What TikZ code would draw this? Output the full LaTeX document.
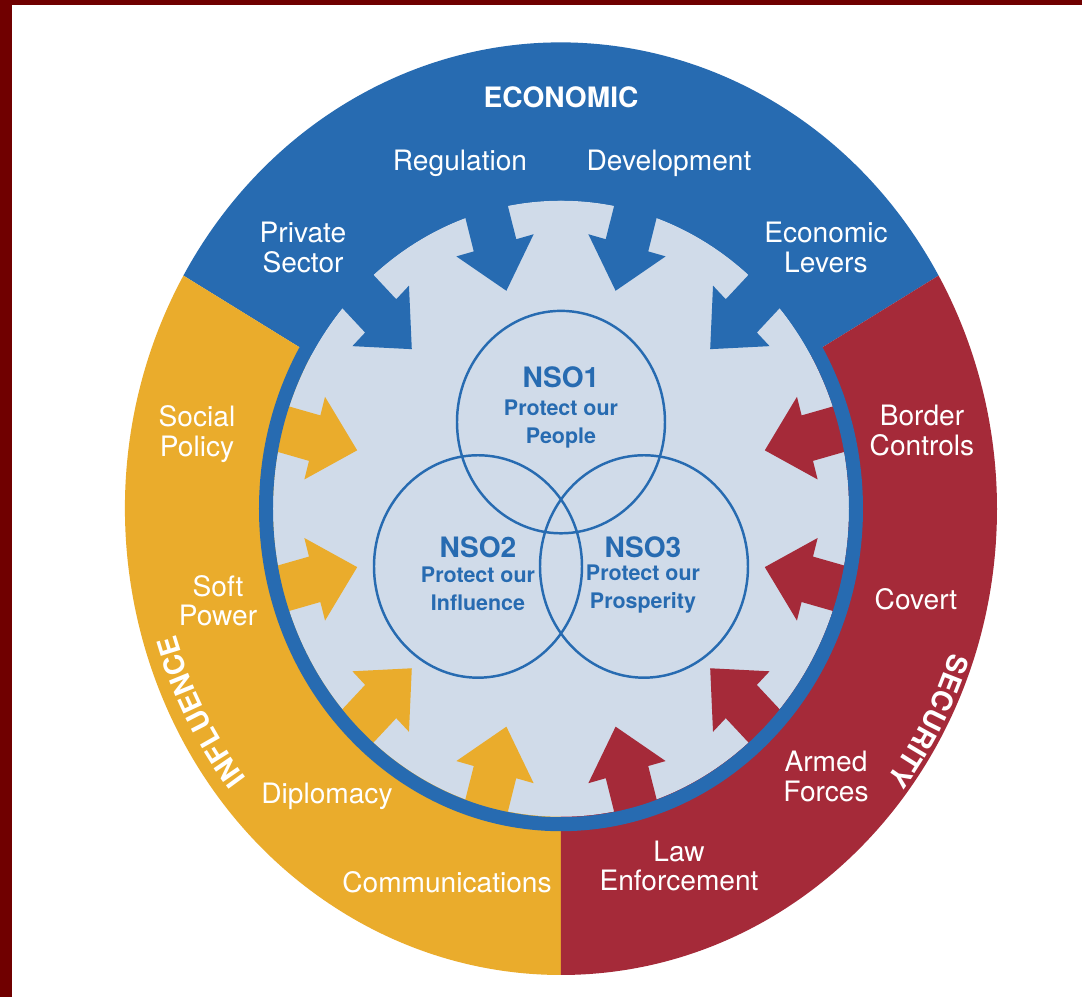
\documentclass[tikz,border=0pt]{standalone}
\usepackage{fontspec}
\setmainfont{TeX Gyre Heros}
\usepackage{tikz}
\usetikzlibrary{decorations.text}
\definecolor{econblue}{RGB}{39,107,177}
\definecolor{inflyellow}{RGB}{234,172,44}
\definecolor{secred}{RGB}{165,42,57}
\definecolor{hubfill}{RGB}{208,219,233}
\definecolor{framered}{RGB}{112,0,0}

\begin{document}
\begin{tikzpicture}[
  x=0.02cm, y=0.0214cm,
  lever/.style={text=white, align=center, font=\fontsize{16}{17}\selectfont},
  pillar/.style={text=white, font=\bfseries\fontsize{16}{18}\selectfont},
  nsohead/.style={text=econblue, font=\bfseries\fontsize{16}{17}\selectfont},
  nsotext/.style={text=econblue, align=center, font=\bfseries\fontsize{12.2}{16}\selectfont},
  nsoring/.style={draw=econblue, line width=1.4pt}
]
\useasboundingbox (-561,-457) rectangle (521,475.7);
\fill[white] (-561,-457) rectangle (521,475.7);
\fill[framered] (-561,-457) rectangle (-549,475.7);
\fill[framered] (-561,471) rectangle (521,475.7);

% three sectors
\fill[econblue] (0,0) -- (30:436) arc[start angle=30, end angle=150, radius=436] -- cycle;
\fill[inflyellow] (0,0) -- (150:436) arc[start angle=150, end angle=270, radius=436] -- cycle;
\fill[secred] (0,0) -- (270:436) arc[start angle=270, end angle=390, radius=436] -- cycle;

% hub
\fill[hubfill] (0,0) circle (288);

% levers pointing in
\foreach \a/\c in {15/secred, 45/econblue, 75/econblue, 105/econblue, 135/econblue,
  165/inflyellow, 195/inflyellow, 225/inflyellow, 255/inflyellow,
  285/secred, 315/secred, 345/secred}
  \fill[\c, x={({0.02cm*cos(\a)},{0.0214cm*sin(\a)})}, y={({-0.02cm*sin(\a)},{0.0214cm*cos(\a)})}]
    (300,22) -- (255,22) -- (255,40) -- (211,0) -- (255,-40) -- (255,-22) -- (300,-22) -- cycle;

\draw[econblue, line width=0.28cm] (0,0) circle (295);

% objectives
\draw[nsoring] (0,81) circle (104);
\draw[nsoring] (-83,-54) circle (104);
\draw[nsoring] (83,-54) circle (104);

\node[nsohead] (nso1) at (0,123) {NSO1};
\node[nsotext] (nso1t) at (0,79) {Protect our\\People};
\node[nsohead] (nso2) at (-83,-36) {NSO2};
\node[nsotext] (nso2t) at (-83,-75) {Protect our\\Influence};
\node[nsohead] (nso3) at (82,-36) {NSO3};
\node[nsotext] (nso3t) at (82,-75) {Protect our\\Prosperity};

% sector titles
\node[pillar] (economic) at (0,385) {ECONOMIC};
\path[decorate, decoration={text along path, text align=center, text color=white,
  text={|\bfseries\fontsize{16}{16}\selectfont|INFLUENCE}}]
  (250:403) arc[start angle=250, end angle=167, radius=403];
\path[decorate, decoration={text along path, text align=center, text color=white,
  text={|\bfseries\fontsize{16}{16}\selectfont|SECURITY}}]
  (10:412) arc[start angle=10, end angle=-68, radius=412];

% lever labels
\node[lever] (regulation) at (-101,323) {Regulation};
\node[lever] (development) at (108,323) {Development};
\node[lever] (private) at (-258,244) {Private\\Sector};
\node[lever] (levers) at (265,244) {Economic\\Levers};
\node[lever] (social) at (-364,70) {Social\\Policy};
\node[lever] (soft) at (-343,-86) {Soft\\Power};
\node[lever] (diplomacy) at (-234,-269) {Diplomacy};
\node[lever] (comms) at (-114,-349) {Communications};
\node[lever] (border) at (361,73) {Border\\Controls};
\node[lever] (covert) at (355,-85) {Covert};
\node[lever] (armed) at (265,-250) {Armed\\Forces};
\node[lever] (law) at (118,-334) {Law\\Enforcement};
\end{tikzpicture}
\end{document}
